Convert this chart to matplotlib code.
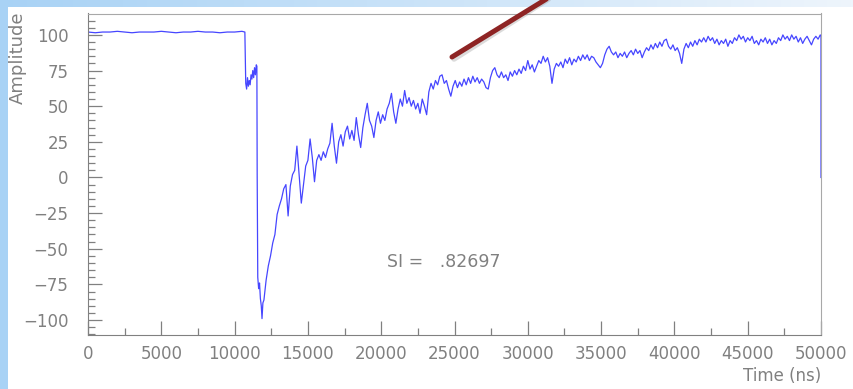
import matplotlib.pyplot as plt
import numpy as np
from matplotlib.lines import Line2D
from matplotlib.patches import Rectangle


#################### DATA ####################

# flat baseline before the pulse [ns], [a.u.]
base_t = [0, 500, 1000, 1500, 2000, 2500, 3000, 3500, 4000, 4500, 5000,
          5500, 6000, 6500, 7000, 7500, 8000, 8500, 9000, 9500, 10000, 10500, 10700]
base_a = [102, 101.5, 102, 102, 102.5, 102, 101.5, 102, 102, 102, 102.5,
          102, 101.5, 102, 102, 102.5, 102, 102, 101.5, 102, 102, 102.5, 102]

# short shelf and the fast drop
step_t = [10760, 10820, 10880, 10940, 11000, 11060, 11120, 11180, 11240, 11300, 11360,
          11420, 11480, 11520, 11540, 11580, 11640, 11700, 11760, 11820, 11870, 11930]
step_a = [66, 62, 70, 64, 68, 65, 72, 69, 75, 70, 77,
          72, 79, 78, 2, -70, -78, -74, -85, -90, -99, -88]

# recovery, sampled every rec_dt ns from rec_t0
rec_t0 = 12000
rec_dt = 150
rec_a = [-86, -72, -62, -55, -46, -40, -26, -20, -15, -8,
         -5, -27, -6, 2, 5, 22, 2, -18, -5, 8,
         12, 27, 14, -3, 12, 16, 12, 18, 14, 20,
         24, 38, 22, 10, 25, 30, 22, 32, 36, 27,
         33, 26, 42, 30, 21, 35, 44, 52, 40, 36,
         28, 40, 46, 38, 44, 40, 48, 52, 59, 46,
         38, 48, 55, 50, 61, 52, 56, 50, 54, 48,
         52, 45, 55, 50, 44, 60, 66, 62, 68, 65,
         71, 72, 66, 68, 62, 57, 64, 68, 63, 67,
         64, 69, 65, 70, 66, 71, 67, 70, 66, 69,
         67, 63, 62, 70, 75, 77, 72, 70, 74, 70,
         72, 68, 74, 71, 75, 72, 76, 73, 78, 75,
         82, 76, 79, 74, 78, 82, 80, 85, 81, 84,
         78, 66, 76, 80, 78, 81, 77, 83, 80, 84,
         79, 83, 81, 85, 82, 86, 83, 86, 82, 85,
         84, 81, 79, 77, 80, 86, 90, 92, 88, 86,
         88, 84, 87, 85, 88, 84, 87, 89, 86, 90,
         87, 89, 84, 88, 91, 89, 93, 90, 94, 91,
         95, 92, 96, 97, 92, 90, 93, 89, 91, 87,
         80, 90, 94, 91, 95, 92, 96, 93, 97, 95,
         98, 95, 99, 96, 98, 94, 97, 93, 96, 94,
         97, 92, 96, 94, 98, 96, 100, 97, 99, 95,
         98, 96, 99, 94, 96, 93, 97, 95, 98, 94,
         97, 93, 96, 94, 98, 96, 100, 97, 99, 96,
         100, 97, 99, 95, 98, 94, 97, 99, 96, 93,
         97, 99, 97, 100]

# last bin drops back to zero
end_t = [50000, 50000]
end_a = [99, 0]

si_value = ".82697"

x_ticks = [0, 5000, 10000, 15000, 20000, 25000, 30000, 35000, 40000, 45000, 50000]
y_ticks = [-100, -75, -50, -25, 0, 25, 50, 75, 100]


#################### PLOTTING ####################

rec_t = rec_t0 + rec_dt * np.arange(len(rec_a))
t = np.concatenate([base_t, step_t, rec_t, end_t])
a = np.concatenate([base_a, step_a, rec_a, end_a])

W, H = 854, 389
fig = plt.figure(figsize=(W / 100, H / 100), dpi=100)
fig.patch.set_facecolor('white')

# bluish frame on the left and top
bg = fig.add_axes([0, 0, 1, 1], zorder=-1)
bg.axis('off')
c0 = np.array([168, 210, 245]) / 255
c1 = np.array([238, 245, 252]) / 255
s = np.linspace(0, 1, 256)[None, :, None]
grad = c0 + (c1 - c0) * s
bg.imshow(grad, extent=[0, 1, 0, 1], aspect='auto')
bg.add_patch(Rectangle((8 / W, 0), 1, 1 - 7 / H, transform=bg.transAxes,
                       facecolor='white', edgecolor='none'))
bg.set_xlim(0, 1)
bg.set_ylim(0, 1)

ax = fig.add_axes([88 / W, 1 - 335 / H, (821 - 88) / W, (335 - 13.5) / H])
ax.plot(t, a, color='#4646ff', lw=0.9)

ax.set_xlim(0, 50000)
ax.set_ylim(-110.5, 115)

gray = '#808080'
ax.set_xticks(x_ticks)
ax.set_xticks(np.array(x_ticks[:-1]) + 2500, minor=True)
ax.set_yticks(y_ticks)
ax.set_yticks(np.arange(-110, 115, 5), minor=True)
ax.tick_params(which='both', direction='in', colors=gray, labelcolor=gray,
               labelsize=12, width=0.9)
ax.tick_params(which='major', length=10)
ax.tick_params(which='minor', length=5)
ax.tick_params(axis='y', pad=14)
ax.tick_params(axis='x', pad=7)
for sp in ['left', 'bottom']:
    ax.spines[sp].set_color(gray)
for sp in ['top', 'right']:
    ax.spines[sp].set_color('#a8a8a8')

ax.text(20370, -59.3, "SI =   " + si_value, color=gray, fontsize=12.5,
        ha='left', va='center')

fig.text(18 / W, 1 - 12 / H, "Amplitude", rotation=90, color=gray,
         fontsize=13, ha='center', va='top')
fig.text(821 / W, 1 - 376 / H, "Time (ns)", color=gray, fontsize=12,
         ha='right', va='center')

# marker stroke across the top
fig.add_artist(Line2D([454 / W, 550 / W], [1 - 59 / H, 1 + 2 / H],
                      color='#9a9a9a', lw=4, alpha=0.35, solid_capstyle='round'))
fig.add_artist(Line2D([452 / W, 548 / W], [1 - 57 / H, 1 + 2 / H],
                      color='#8e2424', lw=3.6, solid_capstyle='round'))

plt.savefig('out.png', dpi=100)
